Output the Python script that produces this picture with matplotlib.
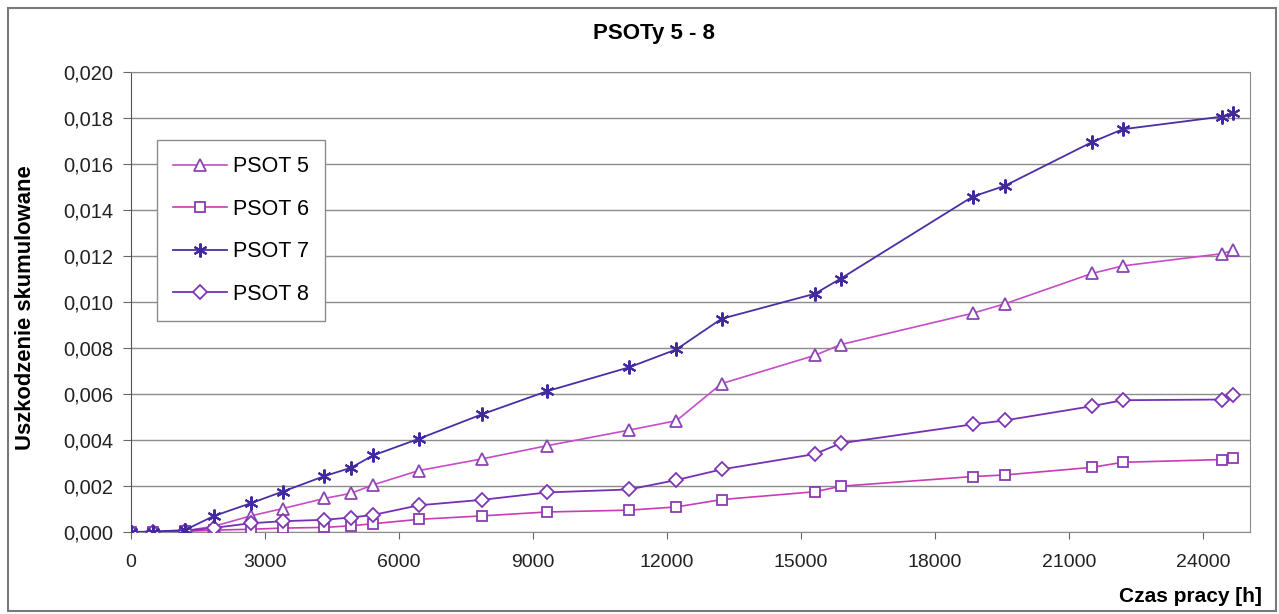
import matplotlib.pyplot as plt
from matplotlib.patches import Rectangle
from matplotlib.ticker import FuncFormatter
import numpy as np

plt.rcParams['font.family'] = ['Liberation Sans', 'DejaVu Sans']

# Operating time [h]
hours = [0, 500, 1200, 1860, 2680, 3400, 4330, 4920, 5420, 6440, 7860, 9310,
         11150, 12210, 13220, 15310, 15890, 18840, 19560, 21510, 22200, 24420, 24670]

# Cumulative damage per unit
psot5 = [0, 0.00001, 0.00005, 0.00025, 0.0007, 0.00102, 0.00146, 0.00168, 0.00205,
         0.00267, 0.00318, 0.00375, 0.00443, 0.00484, 0.00645, 0.00768, 0.00815,
         0.00951, 0.00992, 0.01124, 0.01157, 0.01210, 0.01225]
psot6 = [0, 0.0, 0.00003, 0.00008, 0.00012, 0.00017, 0.0002, 0.00027, 0.00036,
         0.00055, 0.0007, 0.00087, 0.00095, 0.00109, 0.00141, 0.00175, 0.00199,
         0.00241, 0.00248, 0.00281, 0.00303, 0.00315, 0.00321]
psot7 = [0, 0.00002, 0.00008, 0.0007, 0.00125, 0.00176, 0.00243, 0.00279, 0.00333,
         0.00405, 0.00512, 0.00612, 0.00716, 0.00794, 0.00927, 0.01036, 0.01102,
         0.01458, 0.01505, 0.01695, 0.01751, 0.01806, 0.01822]
psot8 = [0, 0.00001, 0.00005, 0.00018, 0.00038, 0.00047, 0.00053, 0.00063, 0.00074,
         0.00116, 0.0014, 0.00172, 0.00185, 0.00226, 0.00272, 0.00339, 0.00386,
         0.00468, 0.00485, 0.00547, 0.00573, 0.00576, 0.00594]

x_ticks = np.arange(0, 24001, 3000)
y_ticks = np.arange(0, 0.0201, 0.002)

fig = plt.figure(figsize=(12.79, 6.14), dpi=100)
ax = fig.add_axes([131/1279, 1 - 532/614, (1250-131)/1279, (532-72)/614])

# outer frame of the chart
fig.patches.append(Rectangle((8/1279, 3/614), 1268/1279, 603/614, transform=fig.transFigure,
                             fill=False, edgecolor='#7a7a7a', linewidth=1.5))

star = (6, 2, 0)
ax.plot(hours, psot5, color='#c64cc8', lw=1.2, marker='^', ms=8,
        mfc='white', mec='#8b45b3', mew=1.3, label='PSOT 5', zorder=3)
ax.plot(hours, psot6, color='#c83cb4', lw=1.2, marker='s', ms=7,
        mfc='white', mec='#8a3cb0', mew=1.3, label='PSOT 6', zorder=3)
ax.plot(hours, psot7, color='#4a2ea6', lw=1.3, marker=star, ms=10,
        mec='#42299e', mew=1.5, label='PSOT 7', zorder=4)
ax.plot(hours, psot8, color='#7431b4', lw=1.3, marker='D', ms=7,
        mfc='white', mec='#7f36b4', mew=1.3, label='PSOT 8', zorder=3)

ax.set_xlim(0, 25050)
ax.set_ylim(0, 0.020)
ax.set_xticks(x_ticks)
ax.set_yticks(y_ticks)
ax.yaxis.set_major_formatter(FuncFormatter(lambda v, p: f"{v:.3f}".replace('.', ',')))
ax.tick_params(axis='y', length=6, pad=7, labelsize=14.5, color='#666666', labelcolor='#222222')
ax.tick_params(axis='x', length=5, pad=11, labelsize=14, color='#666666', labelcolor='#222222')
ax.grid(axis='y', color='#8c8c8c', lw=1)
ax.set_axisbelow(True)
for s in ax.spines.values():
    s.set_color('#8c8c8c')
ax.spines['left'].set_color('#555555')

fig.text(654/1279, 1 - 33/614, 'PSOTy 5 - 8', ha='center', va='center',
         fontsize=16, fontweight='bold')
fig.text(26/1279, 1 - 308/614, 'Uszkodzenie skumulowane', ha='center', va='center',
         rotation=90, fontsize=15.8, fontweight='bold')
fig.text(1262/1279, 1 - 596/614, 'Czas pracy [h]', ha='right', va='center',
         fontsize=15, fontweight='bold')

leg = ax.legend(loc='upper left', bbox_to_anchor=(0.023, 0.852), borderaxespad=0,
                fontsize=15.5, handlelength=2.5, handletextpad=0.28, labelspacing=1.0,
                borderpad=0.75, fancybox=False, framealpha=1, edgecolor='#8c8c8c')
leg.get_frame().set_linewidth(1)

fig.savefig('out.png', dpi=100)
